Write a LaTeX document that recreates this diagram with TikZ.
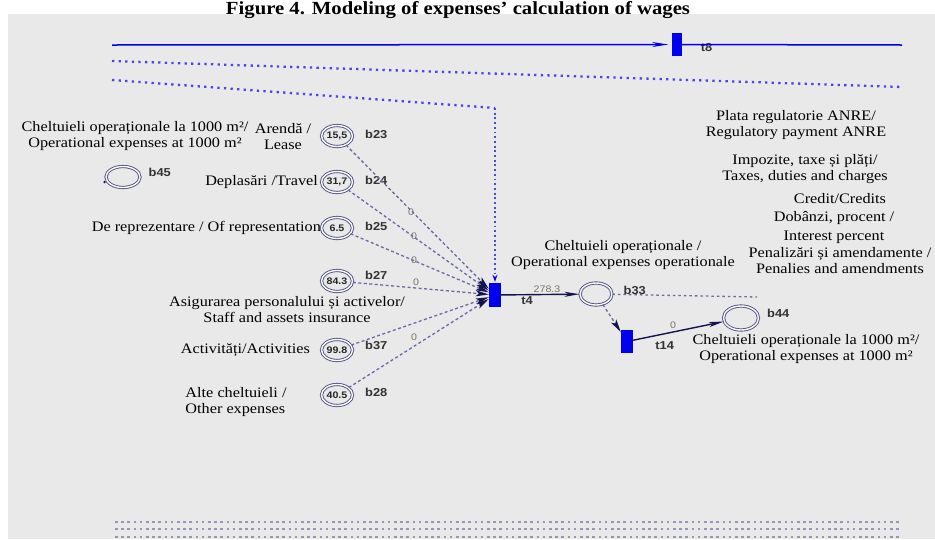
\documentclass[tikz,border=0pt]{standalone}
\usepackage{fontspec}
\setmainfont[FakeStretch=1.12]{Liberation Serif}
\setsansfont[FakeStretch=1.12]{Liberation Sans}
\usepackage{tikz}
\usetikzlibrary{shapes.geometric,arrows.meta,positioning}
\usepackage{xcolor}

\definecolor{bgray}{RGB}{233,233,233}
\definecolor{netblue}{RGB}{0,0,238}
\definecolor{dotblue}{RGB}{70,70,235}
\definecolor{ringcol}{RGB}{80,80,130}
\definecolor{arccol}{RGB}{105,105,165}
\definecolor{navy}{RGB}{20,20,80}
\definecolor{numcol}{RGB}{125,115,100}
\definecolor{rowcol}{RGB}{150,150,185}

\tikzset{
  place/.style={ellipse, draw=ringcol, double=white!80!bgray, double distance=1.4pt, line width=0.9pt,
    minimum width=31pt, minimum height=21pt, inner sep=0pt, text=black!85,
    font=\sffamily\bfseries\fontsize{9.5}{10}\selectfont},
  trans/.style={rectangle, fill=netblue, minimum width=12pt, minimum height=24pt, inner sep=0pt},
  lbl/.style={inner sep=1pt, text=black!80, font=\sffamily\bfseries\fontsize{11.5}{12}\selectfont},
  wt/.style={inner sep=1pt, text=numcol, font=\sffamily\fontsize{9.5}{10}\selectfont},
  txt/.style={inner sep=0pt, align=center, font=\fontsize{14.5}{16}\selectfont},
  inarc/.style={draw=arccol, line width=1.3pt, dash pattern=on 3pt off 2.5pt,
    -{Stealth[length=13pt,width=6pt,inset=3pt,fill=navy,color=navy]}},
  outarc/.style={draw=navy, line width=1.4pt, -{Stealth[length=15pt,width=5pt,inset=4pt]}},
  bluedot/.style={draw=dotblue, line width=2.3pt, dash pattern=on 2.3pt off 4.3pt},
  rowdot/.style={draw=rowcol, line width=2.6pt, dash pattern=on 2.6pt off 3.6pt}
}

\begin{document}
\begin{tikzpicture}[x=1pt,y=-1pt]
\useasboundingbox (0,0) rectangle (935,539);
\fill [bgray] (8,14) rectangle (935,539);
\node (title) [anchor=base, font=\bfseries\fontsize{18.5}{19}\selectfont] at (458,14) {Figure 4. Modeling of expenses' calculation of wages};

\node (t8) [trans, minimum width=10pt, minimum height=23pt] at (676.5,44.5) {};
\node (t4) [trans] at (495,295) {};
\node (t14) [trans, minimum height=23pt] at (627,341.5) {};

\node (b23) [place] at (337,136) {15,5};
\node (b24) [place] at (337,182) {31,7};
\node (b25) [place] at (337,228) {6.5};
\node (b27) [place] at (337,281) {84.3};
\node (b37) [place] at (337,350) {99.8};
\node (b28) [place] at (337,395) {40.5};
\node (b45) [place, minimum width=34pt] at (123,177) {};
\node (b33) [place, minimum width=32pt, minimum height=22pt] at (596,294) {};
\node (b44) [place, minimum width=35pt, minimum height=24pt] at (741,318) {};
\fill [navy] (b45.west) ++(-1,5) circle (1.3pt);

\node (b23l) [lbl, right=11pt of b23, yshift=2pt] {b23};
\node (b24l) [lbl, right=11pt of b24, yshift=2pt] {b24};
\node (b25l) [lbl, right=11pt of b25, yshift=2pt] {b25};
\node (b27l) [lbl, right=11pt of b27, yshift=6pt] {b27};
\node (b37l) [lbl, right=11pt of b37, yshift=5pt] {b37};
\node (b28l) [lbl, right=11pt of b28, yshift=3pt] {b28};
\node (b45l) [lbl, right=7pt of b45, yshift=5pt] {b45};
\node (b33l) [lbl, right=10pt of b33, yshift=4pt] {b33};
\node (b44l) [lbl, right=7pt of b44, yshift=5pt] {b44};
\node (t8l) [lbl, right=18pt of t8, yshift=-3pt] {t8};
\node (t4l) [lbl] at (527,301) {t4};
\node (t14l) [lbl, right=21pt of t14, yshift=-4pt] {t14};

\node (w23) [wt] at (411,212) {0};
\node (w24) [wt] at (414,236) {0};
\node (w25) [wt] at (414,260) {0};
\node (w27) [wt] at (416,282) {0};
\node (w28) [wt] at (414,337) {0};
\node (w33) [wt] at (547,289) {278.3};
\node (w44) [wt] at (673,325) {0};

\node (opk) [txt] at (135,136.5) {Cheltuieli operaționale la 1000 m²/\\Operational expenses at 1000 m²};
\node (lease) [txt] at (283,136.5) {Arendă /\\Lease};
\node (travel) [txt, left=3pt of b24] {Deplasări /Travel};
\node (repr) [txt, left=0pt of b25] {De reprezentare / Of representation};
\node (insur) [txt] at (287,309.5) {Asigurarea personalului și activelor/\\Staff and assets insurance};
\node (activ) [txt, left=11pt of b37] {Activități/Activities};
\node (other) [txt, align=left] at (236,402) {Alte cheltuieli /\\Other expenses};
\node (opexp) [txt] at (623,255.5) {Cheltuieli operaționale /\\Operational expenses operationale};
\node (opkr) [txt] at (806,349.5) {Cheltuieli operaționale la 1000 m²/\\Operational expenses at 1000 m²};
\node (anre) [txt] at (796,125) {Plata regulatorie ANRE/\\Regulatory payment ANRE};
\node (taxes) [txt] at (805,169) {Impozite, taxe și plăți/\\Taxes, duties and charges};
\node (credit) [txt] at (840,199) {Credit/Credits};
\node (interest) [txt] at (834,227) {Dobânzi, procent /\\[3pt]Interest percent};
\node (penal) [txt] at (840,261) {Penalizări și amendamente /\\Penalies and amendments};

\coordinate (l0) at (112,45);
\coordinate (r0) at (902,45);
\draw [netblue, line width=1.5pt, shorten >=3pt, -{Stealth[length=16pt,width=5pt,inset=5pt]}] (l0) -- (t8);
\draw [netblue, line width=1.5pt] (t8) -- (r0);

\coordinate (d1a) at (112,61);
\coordinate (d1b) at (902,87);
\coordinate (d2a) at (112,80);
\coordinate (d2b) at (495,108);
\draw [bluedot] (d1a) -- (d1b);
\draw [bluedot] (d2a) -- (d2b);
\draw [bluedot, line width=1.9pt, dash pattern=on 1.9pt off 2.8pt, shorten >=1pt, -{Stealth[length=7pt,width=5pt,color=netblue]}] (d2b) -- (t4);

\draw [inarc] (b23) -- (t4);
\draw [inarc] (b24) -- (t4);
\draw [inarc] (b25) -- (t4);
\draw [inarc] (b27) -- (t4);
\draw [inarc] (b37) -- (t4);
\draw [inarc] (b28) -- (t4);
\draw [outarc] (t4) -- (b33);
\draw [inarc] (b33) -- (t14);
\draw [outarc] (t14) -- (b44);
\coordinate (b33e) at (757,297);
\draw [draw=arccol, line width=1.3pt, dash pattern=on 2.5pt off 3pt] (b33) -- (b33e);

\coordinate (g1a) at (115,522);
\coordinate (g1b) at (900,522);
\coordinate (g2a) at (115,529);
\coordinate (g2b) at (900,529);
\coordinate (g3a) at (115,537);
\coordinate (g3b) at (900,537);
\draw [rowdot] (g1a) -- (g1b);
\draw [rowdot] (g2a) -- (g2b);
\draw [rowdot] (g3a) -- (g3b);
\end{tikzpicture}
\end{document}
